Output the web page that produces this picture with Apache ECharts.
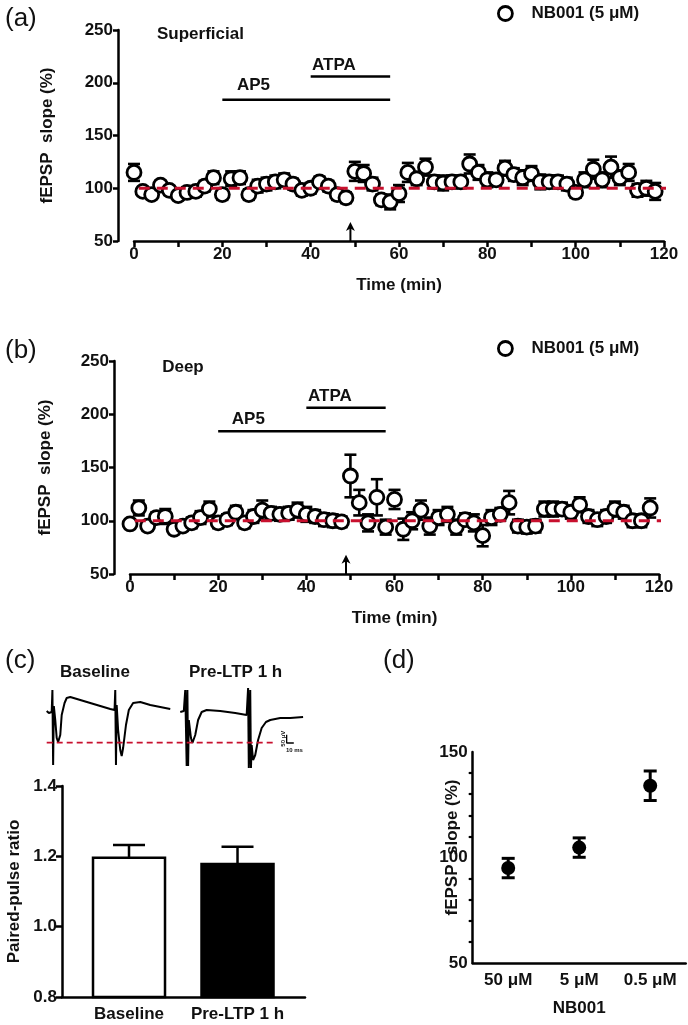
<!DOCTYPE html>
<html><head><meta charset="utf-8">
<script src="https://cdn.jsdelivr.net/npm/echarts@6/dist/echarts.min.js"></script>
<style>html,body{margin:0;padding:0;background:#fff}#c{width:688px;height:1025px}</style>
</head><body><div id="c"></div>
<script>
// ---------------- DATA ----------------
const timeMin = [0,2,4,6,8,10,12,14,16,18,20,22,24,26,28,30,32,34,36,38,40,42,44,46,48,50,52,54,56,58,60,62,64,66,68,70,72,74,76,78,80,82,84,86,88,90,92,94,96,98,100,102,104,106,108,110,112,114,116,118];
const superficialMean = [115,97,94,103,98,93,96,97,102,110,94,109,110,94,102,104,106,108,104,98,100,106,102,94,91,116,114,104,89,87,95,115,109,120,106,105,106,106,123,115,108,108,119,113,110,114,106,106,106,104,96,108,118,108,120,110,115,98,100,97];
const superficialSem  = [8,4,4,4,4,4,5,5,5,6,5,7,6,5,6,6,6,6,5,5,5,5,5,5,5,9,8,6,5,7,8,9,6,8,6,7,6,6,9,7,7,6,7,6,7,7,7,6,6,6,5,7,9,7,10,7,8,6,7,8];
const deepMean = [97,112,95,103,104,92,95,98,103,111,98,101,108,98,104,110,107,106,107,110,106,104,101,100,99,142,117,98,122,94,120,92,100,110,95,103,106,94,101,98,86,103,106,117,95,94,95,111,111,111,108,115,104,101,104,111,108,100,100,112];
const deepSem  = [4,7,4,5,7,4,4,5,6,7,5,5,6,5,6,9,6,6,6,7,7,6,6,6,5,20,12,8,17,7,9,10,8,9,8,7,7,7,6,8,10,7,6,11,6,6,6,7,7,6,6,7,6,6,6,7,6,6,6,9];
const baselinePct = 100;
const baselineSpan = [-3, 121];
const drugAP5 = [20, 58];
const drugATPA = [40, 58];
const drugAP5Level = 184;
const drugATPALevel = 206;
const arrowTime = 49;
const arrowSpan = [50, 68];

const traceBaseline = [[0,0],[3,-12],[7,-6],[8,126],[9,-324],[10,30],[12,-54],[14,-162],[16,-186],[19,-144],[21,-24],[25,48],[28,78],[33,84],[47,66],[61,48],[75,30],[89,12],[95,6],[96,126],[97,-324],[98,36],[100,-114],[103,-234],[105,-270],[107,-222],[111,-84],[115,6],[121,48],[131,54],[145,36],[159,24],[173,12]];
const tracePreLTP = [[187,-6],[192,0],[194,126],[196,-330],[197,126],[198,-330],[199,-54],[202,-162],[204,-192],[208,-144],[212,-54],[217,-6],[224,6],[243,0],[264,-12],[280,-24],[282,138],[283,-342],[285,126],[286,-342],[287,-204],[289,-294],[292,-264],[296,-174],[301,-102],[307,-66],[313,-54],[327,-42],[341,-42],[359,-36]];
const traceDashLevel = -190;
const traceDashSpan = [0, 322];
const scaleBar = [[336,-142],[336,-192],[346,-192]];

const pprCategories = ['Baseline', 'Pre-LTP 1 h'];
const pprMean = [1.196, 1.178];
const pprSem = [0.036, 0.049];
const pprAxisMin = 0.8;

const doseCategories = ['50 μM', '5 μM', '0.5 μM'];
const doseMean = [95, 104.7, 134];
const doseSem = [4.6, 4.6, 7];

// ---------------- STYLE ----------------
const FONT = 'Liberation Sans';
const INK = '#111';
const RED = '#c8102e';
const FS = 17;
const bold = (s) => ({fontFamily: FONT, fontWeight: 'bold', fontSize: s, color: INK});
const axisLine = {show: true, onZero: false, lineStyle: {color: '#000', width: 2.5}};
const tickStyle = {color: '#000', width: 2.5};

function errBar(cap, lw) {
  return function (params, api) {
    const x = api.value(0), y = api.value(1), e = api.value(2);
    const hi = api.coord([x, y + e]), lo = api.coord([x, y - e]);
    const st = {stroke: '#000', lineWidth: lw};
    return {type: 'group', children: [
      {type: 'line', shape: {x1: hi[0], y1: hi[1], x2: lo[0], y2: lo[1]}, style: st},
      {type: 'line', shape: {x1: hi[0] - cap, y1: hi[1], x2: hi[0] + cap, y2: hi[1]}, style: st},
      {type: 'line', shape: {x1: lo[0] - cap, y1: lo[1], x2: lo[0] + cap, y2: lo[1]}, style: st}
    ]};
  };
}
function arrowRender(params, api) {
  const t = api.value(0);
  const a = api.coord([t, api.value(1)]), b = api.coord([t, api.value(2)]);
  return {type: 'group', children: [
    {type: 'line', shape: {x1: a[0], y1: a[1], x2: b[0], y2: b[1] + 5}, style: {stroke: '#000', lineWidth: 2}},
    {type: 'polygon', shape: {points: [[b[0], b[1]], [b[0] - 4.5, b[1] + 9], [b[0], b[1] + 6.5], [b[0] + 4.5, b[1] + 9]]}, style: {fill: '#000'}}
  ]};
}
function textRender(size, weight, rotate) {
  return function (params, api) {
    const p = api.coord([api.value(0), api.value(1)]);
    return {type: 'text', x: p[0], y: p[1], rotation: rotate || 0,
      style: {text: api.value(2), fontFamily: FONT, fontWeight: weight, fontSize: size, fill: INK,
        align: rotate ? 'center' : 'left', verticalAlign: 'middle'}};
  };
}
function pprRender(params, api) {
  const x = api.value(0), y = api.value(1), e = api.value(2);
  const top = api.coord([x, y]), base = api.coord([x, pprAxisMin]), hi = api.coord([x, y + e]);
  const w = 72, cap = 16;
  const st = {stroke: '#000', lineWidth: 2.5};
  return {type: 'group', children: [
    {type: 'line', shape: {x1: top[0], y1: top[1], x2: hi[0], y2: hi[1]}, style: st},
    {type: 'line', shape: {x1: hi[0] - cap, y1: hi[1], x2: hi[0] + cap, y2: hi[1]}, style: st},
    {type: 'rect', shape: {x: top[0] - w / 2, y: top[1], width: w, height: base[1] - top[1]},
      style: {fill: params.dataIndex === 0 ? '#fff' : '#000', stroke: '#000', lineWidth: 2.5}}
  ]};
}

function timeXAxis(gi) {
  return {gridIndex: gi, type: 'value', min: 0, max: 120, interval: 10,
    axisLine: axisLine, axisTick: {length: 6, lineStyle: tickStyle},
    axisLabel: Object.assign(bold(FS), {margin: 5, formatter: v => (v % 20 === 0 ? String(v) : '')}),
    splitLine: {show: false},
    name: 'Time (min)', nameLocation: 'middle', nameGap: 36, nameMoveOverlap: false, nameTextStyle: bold(FS)};
}
function pctYAxis(gi, gap) {
  return {gridIndex: gi, type: 'value', min: 50, max: 250, interval: 50, offset: 16,
    axisLine: axisLine, axisTick: {length: 5, lineStyle: tickStyle},
    axisLabel: Object.assign(bold(FS), {margin: 5}), splitLine: {show: false},
    name: 'fEPSP  slope (%)', nameLocation: 'middle', nameRotate: 90, nameGap: gap, nameMoveOverlap: false, nameTextStyle: bold(FS)};
}
function timeSeries(gi, mean, sem, labels) {
  const pts = timeMin.map((t, i) => [t, mean[i]]);
  const errs = timeMin.map((t, i) => [t, mean[i], sem[i]]);
  return [
    {type: 'custom', xAxisIndex: gi, yAxisIndex: gi, data: errs, renderItem: errBar(6, 2.6), z: 2, silent: true},
    {type: 'scatter', name: 'NB001 (5 μM)', xAxisIndex: gi, yAxisIndex: gi, data: pts, symbol: 'circle', symbolSize: 14,
      itemStyle: {color: '#fff', borderColor: '#000', borderWidth: 2.8, opacity: 1}, z: 3, silent: true},
    {type: 'line', xAxisIndex: gi, yAxisIndex: gi, data: [[baselineSpan[0], baselinePct], [baselineSpan[1], baselinePct]],
      clip: false, symbol: 'none', lineStyle: {color: RED, width: 3, type: [11, 7]}, z: 5, silent: true},
    {type: 'line', xAxisIndex: gi, yAxisIndex: gi, data: [[drugAP5[0], drugAP5Level], [drugAP5[1], drugAP5Level]],
      symbol: 'none', lineStyle: {color: '#000', width: 2.5}, silent: true},
    {type: 'line', xAxisIndex: gi, yAxisIndex: gi, data: [[drugATPA[0], drugATPALevel], [drugATPA[1], drugATPALevel]],
      symbol: 'none', lineStyle: {color: '#000', width: 2.5}, silent: true},
    {type: 'custom', xAxisIndex: gi, yAxisIndex: gi, data: [[arrowTime, arrowSpan[0], arrowSpan[1]]], renderItem: arrowRender, clip: false, z: 4, silent: true},
    {type: 'custom', xAxisIndex: gi, yAxisIndex: gi, data: labels, renderItem: textRender(FS, 'bold'), clip: false, z: 6, silent: true}
  ];
}

const option = {
  animation: false,
  backgroundColor: '#fff',
  textStyle: {fontFamily: FONT},
  title: [
    {text: '(a)', left: 5, top: 6, padding: 0, textStyle: {fontFamily: FONT, fontWeight: 'normal', fontSize: 26, color: INK}},
    {text: '(b)', left: 5, top: 338, padding: 0, textStyle: {fontFamily: FONT, fontWeight: 'normal', fontSize: 26, color: INK}},
    {text: '(c)', left: 5, top: 648, padding: 0, textStyle: {fontFamily: FONT, fontWeight: 'normal', fontSize: 26, color: INK}},
    {text: '(d)', left: 383, top: 648, padding: 0, textStyle: {fontFamily: FONT, fontWeight: 'normal', fontSize: 26, color: INK}},
    {text: 'Baseline', left: 60, top: 664, padding: 0, textStyle: bold(FS)},
    {text: 'Pre-LTP 1 h', left: 189, top: 664, padding: 0, textStyle: bold(FS)}
  ],
  legend: [
    {data: ['NB001 (5 μM)'], left: 497, top: 5, padding: 0, icon: 'circle', itemWidth: 14, itemHeight: 14,
      itemStyle: {color: '#fff', borderColor: '#000', borderWidth: 2.8},
      textStyle: Object.assign(bold(FS), {padding: [0, 0, 0, 14]}), selectedMode: false},
    {data: ['NB001 (5 μM)'], left: 497, top: 340, padding: 0, icon: 'circle', itemWidth: 14, itemHeight: 14,
      itemStyle: {color: '#fff', borderColor: '#000', borderWidth: 2.8},
      textStyle: Object.assign(bold(FS), {padding: [0, 0, 0, 14]}), selectedMode: false}
  ],
  grid: [
    {left: 134, top: 30, width: 530, height: 211, outerBoundsMode: 'none'},
    {left: 130, top: 361, width: 529, height: 213, outerBoundsMode: 'none'},
    {left: 46.7, top: 661, width: 257.1, height: 110, outerBoundsMode: 'none'},
    {left: 62, top: 786, width: 243, height: 211, outerBoundsMode: 'none'},
    {left: 472.7, top: 752, width: 213, height: 211, outerBoundsMode: 'none'}
  ],
  xAxis: [
    timeXAxis(0),
    timeXAxis(1),
    {gridIndex: 2, type: 'value', min: 0, max: 360, show: false},
    {gridIndex: 3, type: 'value', min: -0.6176, max: 1.622,
      axisLine: axisLine, axisTick: {show: false}, splitLine: {show: false},
      axisLabel: Object.assign(bold(FS), {margin: 9, customValues: [0, 1], formatter: v => pprCategories[Math.round(v)] || ''})},
    {gridIndex: 4, type: 'category', data: doseCategories,
      axisLine: axisLine, axisTick: {alignWithLabel: true, length: 7, lineStyle: tickStyle},
      axisLabel: Object.assign(bold(FS), {margin: 9}),
      name: 'NB001', nameLocation: 'middle', nameGap: 37, nameMoveOverlap: false, nameTextStyle: bold(FS)}
  ],
  yAxis: [
    pctYAxis(0, 62),
    pctYAxis(1, 60),
    {gridIndex: 2, type: 'value', min: -360, max: 300, show: false},
    {gridIndex: 3, type: 'value', min: pprAxisMin, max: 1.4, interval: 0.2,
      axisLine: axisLine, axisTick: {length: 6, lineStyle: tickStyle}, splitLine: {show: false},
      axisLabel: Object.assign(bold(FS), {margin: 5, formatter: v => v.toFixed(1)}),
      name: 'Paired-pulse ratio', nameLocation: 'middle', nameRotate: 90, nameGap: 39, nameMoveOverlap: false, nameTextStyle: bold(FS)},
    {gridIndex: 4, type: 'value', min: 50, max: 150, interval: 50,
      axisLine: axisLine, axisTick: {length: 8, lineStyle: tickStyle}, splitLine: {show: false},
      minorTick: {show: true, splitNumber: 5, length: 4, lineStyle: {color: '#000', width: 2.2}},
      axisLabel: Object.assign(bold(FS), {margin: 5}),
      name: 'fEPSP  slope (%)', nameLocation: 'middle', nameRotate: 90, nameGap: 12, nameMoveOverlap: false,
      nameTextStyle: Object.assign(bold(FS), {padding: [0, 0, 0, 20]})}
  ],
  series: [
    ...timeSeries(0, superficialMean, superficialSem, [
      [5.2, 246, 'Superficial'], [23.3, 198, 'AP5'], [40.3, 217, 'ATPA']]),
    ...timeSeries(1, deepMean, deepSem, [
      [7.3, 244, 'Deep'], [23.1, 195, 'AP5'], [40.4, 217, 'ATPA']]),
    // traces
    {type: 'line', xAxisIndex: 2, yAxisIndex: 2, data: traceBaseline, symbol: 'none', lineStyle: {color: '#000', width: 2}, silent: true},
    {type: 'line', xAxisIndex: 2, yAxisIndex: 2, data: tracePreLTP, symbol: 'none', lineStyle: {color: '#000', width: 2}, silent: true},
    {type: 'line', xAxisIndex: 2, yAxisIndex: 2, data: [[traceDashSpan[0], traceDashLevel], [traceDashSpan[1], traceDashLevel]],
      symbol: 'none', lineStyle: {color: RED, width: 1.8, type: [6, 4]}, z: 5, silent: true},
    {type: 'line', xAxisIndex: 2, yAxisIndex: 2, data: scaleBar, symbol: 'none', lineStyle: {color: '#000', width: 1.3}, silent: true},
    {type: 'custom', xAxisIndex: 2, yAxisIndex: 2, data: [[331, -166, '50 μV']], renderItem: textRender(6, 'bold', Math.PI / 2), clip: false, silent: true},
    {type: 'custom', xAxisIndex: 2, yAxisIndex: 2, data: [[335, -236, '10 ms']], renderItem: textRender(6, 'bold'), clip: false, silent: true},
    // panel c bars
    {type: 'custom', xAxisIndex: 3, yAxisIndex: 3, data: pprMean.map((m, i) => [i, m, pprSem[i]]), renderItem: pprRender, silent: true},
    // panel d
    {type: 'custom', xAxisIndex: 4, yAxisIndex: 4, data: doseMean.map((m, i) => [i, m, doseSem[i]]), renderItem: errBar(6.5, 3), silent: true},
    {type: 'scatter', xAxisIndex: 4, yAxisIndex: 4, data: doseMean.map((m, i) => [i, m]), symbolSize: 14,
      itemStyle: {color: '#000', opacity: 1}, z: 3, silent: true}
  ]
};
const chart = echarts.init(document.getElementById('c'), null, {renderer: 'canvas'});
chart.setOption(option);
</script></body></html>
